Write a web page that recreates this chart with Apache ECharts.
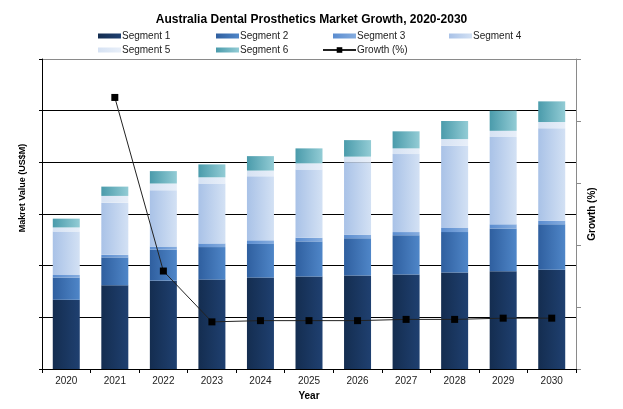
<!DOCTYPE html>
<html>
<head>
<meta charset="utf-8">
<script src="https://cdn.jsdelivr.net/npm/echarts@6/dist/echarts.min.js"></script>
<style>html,body{margin:0;padding:0;background:#fff}#c{width:623px;height:409px}</style>
</head>
<body>
<div id="c"></div>
<script>
const years = ['2020','2021','2022','2023','2024','2025','2026','2027','2028','2029','2030'];
const segment1 = [134,162,171,173,177,179,181,183,187,189,192];
const segment2 = [43,54,60,63,65,68,72,76,78,83,88];
const segment3 = [5,5,6,7,7,7,7,6,8,8,7];
const segment4 = [84,101,109,116,124,132,140,151,159,169,179];
const segment5 = [8,13,13,12,11,12,11,11,13,12,12];
const segment6 = [17,18,24,25,28,29,32,33,35,39,40];
const growth = [null,21.9,7.9,3.8,3.9,3.9,3.9,4.0,4.0,4.1,4.1];

const chart = echarts.init(document.getElementById('c'), null, {renderer:'canvas'});
const grad = (a,b) => new echarts.graphic.LinearGradient(0,0,1,0,[{offset:0,color:a},{offset:1,color:b}]);
const segColors = [
  ['#142d50','#1f4070'],
  ['#2f5f9f','#4f86c8'],
  ['#5a8ccf','#86addf'],
  ['#a9c2e7','#d3e1f4'],
  ['#d6e2f3','#e8eff9'],
  ['#4a9bab','#93ccd5']
];
const segData = [segment1,segment2,segment3,segment4,segment5,segment6];
const segNames = ['Segment 1','Segment 2','Segment 3','Segment 4','Segment 5','Segment 6'];
const series = segData.map((d,i)=>({
  name: segNames[i], type:'bar', stack:'s', data:d, barWidth:27,
  itemStyle:{color:grad(segColors[i][0],segColors[i][1])}
}));
series.push({
  name:'Growth (%)', type:'line', yAxisIndex:1, data:growth,
  symbol:'rect', symbolSize:7, showSymbol:true,
  lineStyle:{color:'#222',width:1}, itemStyle:{color:'#000'}
});
const legPos = [[98,31],[216,31],[333,31],[449,31],[98,45],[216,45],[322,45]];
const legends = segNames.concat(['Growth (%)']).map((n,i)=>({
  data: i===6 ? [n] : [{name:n, icon:'rect'}], left:legPos[i][0], top:legPos[i][1], itemGap:0,
  itemWidth: i===6?33:23, itemHeight: i===6?7:5,
  textStyle:{fontFamily:'Liberation Sans, Arial', fontSize:10, color:'#222', padding:[0,0,0,-4]},
  padding:0
}));
chart.setOption({
  animation:false,
  title:{text:'Australia Dental Prosthetics Market Growth, 2020-2030', left:'center', top:9,
    textStyle:{fontFamily:'Liberation Sans, Arial', fontSize:12, fontWeight:'bold', color:'#000'}},
  legend: legends,
  grid:{left:42, right:47, top:59, bottom:40},
  xAxis:{type:'category', data:years, name:'Year', nameLocation:'middle', nameGap:21,
    nameTextStyle:{fontFamily:'Liberation Sans, Arial', fontSize:10, fontWeight:'bold', color:'#000'},
    axisLine:{lineStyle:{color:'#000',width:1}},
    axisTick:{show:true, length:4, alignWithLabel:false, lineStyle:{color:'#000'}},
    axisLabel:{fontFamily:'Liberation Sans, Arial', fontSize:10, color:'#222', margin:7}},
  yAxis:[
    {type:'value', min:0, max:600, interval:100, name:'Makret Value (US$M)', nameLocation:'middle', nameGap:15, nameRotate:90,
     nameTextStyle:{fontFamily:'Liberation Sans Narrow, Liberation Sans, Arial', fontSize:9, fontWeight:'bold', color:'#000', padding:[0,0,0,52]},
     axisLine:{show:true, lineStyle:{color:'#000'}}, axisTick:{show:true, length:3, lineStyle:{color:'#000'}},
     axisLabel:{show:false},
     splitLine:{show:true, lineStyle:{color:['#000','#000','#000','#000','#000','#000','#8a8a8a'], width:1}}},
    {type:'value', min:0, max:25, interval:5, name:'Growth (%)', nameLocation:'middle', nameGap:11, nameRotate:90,
     nameTextStyle:{fontFamily:'Liberation Sans, Arial', fontSize:10, fontWeight:'bold', color:'#000'},
     axisLine:{show:true, lineStyle:{color:'#8a8a8a'}}, axisTick:{show:true, length:5, lineStyle:{color:'#8a8a8a'}},
     axisLabel:{show:false}, splitLine:{show:false}}
  ],
  series: series
});
</script>
</body>
</html>
